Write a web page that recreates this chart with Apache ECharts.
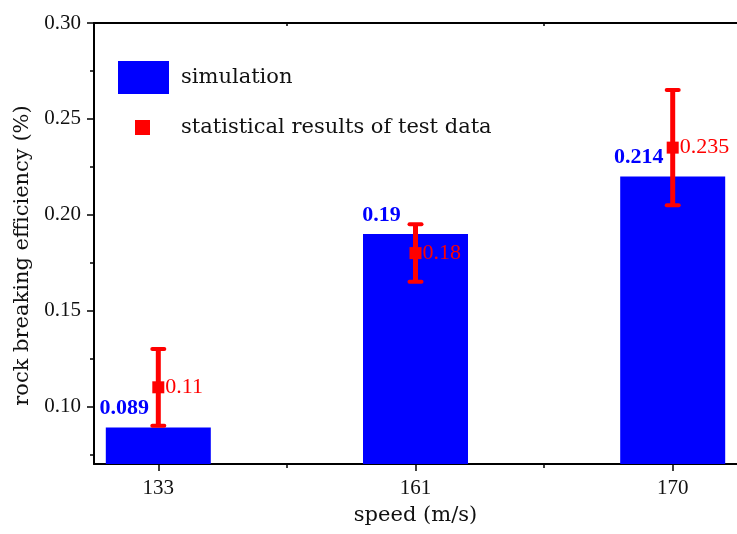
<!DOCTYPE html>
<html>
<head>
<meta charset="utf-8">
<script src="https://cdn.jsdelivr.net/npm/echarts@6/dist/echarts.min.js"></script>
<style>
  html, body { margin: 0; padding: 0; background: #fff; }
  #chart { width: 737px; height: 534px; }
</style>
</head>
<body>
<div id="chart"></div>
<script>
// speeds on the x axis (m/s)
const categories = ['133', '161', '170']
// simulation bars: heights and the printed labels
const barValues = [0.089, 0.19, 0.22]
const barLabels = ['0.089', '0.19', '0.214']
// test data: mean with error range
const testMeans = [0.11, 0.18, 0.235]
const testLow = [0.09, 0.165, 0.205]
const testHigh = [0.13, 0.195, 0.265]
// y tick labels
const yTicks = [0.1, 0.15, 0.2, 0.25, 0.3]
const yMinorTicks = [0.075, 0.125, 0.175, 0.225, 0.275]

const serif = '"DejaVu Serif", serif'
const numFont = '"Liberation Serif", serif'
const xPos = categories.map((c, i) => i + 1)
const xMinor = xPos.slice(1).map(x => x - 0.5)

const chart = echarts.init(document.getElementById('chart'))

chart.setOption({
  animation: false,
  grid: { left: 94, top: 23, right: -6, bottom: 70 },
  legend: [
    {
      data: [{ name: 'simulation', icon: 'rect' }],
      left: 118,
      top: 61,
      itemWidth: 51,
      itemHeight: 33,
      padding: 0,
      textStyle: { fontFamily: serif, fontSize: 21, color: '#111', padding: [0, 0, 0, 7] },
    },
    {
      data: [{ name: 'statistical results of test data', icon: 'rect' }],
      left: 135,
      top: 117,
      itemWidth: 15,
      itemHeight: 15,
      padding: 0,
      textStyle: { fontFamily: serif, fontSize: 21, color: '#111', padding: [0, 0, 0, 26] },
    },
  ],
  xAxis: [
    {
      type: 'value',
      min: 0.75,
      max: 3.25,
      name: 'speed (m/s)',
      nameLocation: 'middle',
      nameGap: 41,
      nameTextStyle: { fontFamily: serif, fontSize: 21, color: '#111' },
      splitLine: { show: false },
      axisLine: { lineStyle: { color: '#000', width: 2 } },
      axisTick: { customValues: xPos, length: 7, lineStyle: { color: '#000', width: 1.5 } },
      axisLabel: {
        customValues: xPos,
        formatter: v => categories[Math.round(v) - 1],
        margin: 14,
        fontFamily: numFont,
        fontSize: 21,
        color: '#111',
      },
    },
    {
      // minor ticks between speeds
      type: 'value',
      min: 0.75,
      max: 3.25,
      position: 'bottom',
      splitLine: { show: false },
      axisLine: { show: false },
      axisLabel: { show: false },
      axisTick: { customValues: xMinor, length: 4, lineStyle: { color: '#000', width: 1.5 } },
    },
    {
      // top frame
      type: 'value',
      min: 0.75,
      max: 3.25,
      position: 'top',
      splitLine: { show: false },
      axisLine: { lineStyle: { color: '#000', width: 2 } },
      axisLabel: { show: false },
      axisTick: { customValues: xMinor, inside: true, length: 3, lineStyle: { color: '#000', width: 1.5 } },
    },
  ],
  yAxis: [
    {
      type: 'value',
      min: 0.07,
      max: 0.3,
      name: 'rock breaking efficiency (%)',
      nameLocation: 'middle',
      nameGap: 52,
      nameTextStyle: { fontFamily: serif, fontSize: 21, color: '#111', padding: [0, 24, 0, 0] },
      splitLine: { show: false },
      axisLine: { lineStyle: { color: '#000', width: 2 } },
      axisTick: { customValues: yTicks, length: 7, lineStyle: { color: '#000', width: 1.5 } },
      axisLabel: {
        customValues: yTicks,
        formatter: v => v.toFixed(2),
        margin: 13,
        fontFamily: numFont,
        fontSize: 21,
        color: '#111',
      },
    },
    {
      type: 'value',
      min: 0.07,
      max: 0.3,
      position: 'left',
      splitLine: { show: false },
      axisLine: { show: false },
      axisLabel: { show: false },
      axisTick: { customValues: yMinorTicks, length: 4, lineStyle: { color: '#000', width: 1.5 } },
    },
  ],
  series: [
    {
      name: 'simulation',
      type: 'bar',
      barWidth: 105,
      itemStyle: { color: '#0000ff' },
      data: barValues.map((v, i) => [xPos[i], v]),
      label: {
        show: true,
        position: 'top',
        distance: 5,
        offset: [-34, -3],
        formatter: p => barLabels[p.dataIndex],
        fontFamily: numFont,
        fontWeight: 'bold',
        fontSize: 22,
        color: '#0000ff',
      },
    },
    {
      name: 'error',
      type: 'custom',
      z: 3,
      data: testMeans.map((v, i) => [xPos[i], testLow[i], testHigh[i]]),
      renderItem: (params, api) => {
        const lo = api.coord([api.value(0), api.value(1)])
        const hi = api.coord([api.value(0), api.value(2)])
        const cap = 6
        const style = { stroke: '#ff0000', lineWidth: 4, lineCap: 'round' }
        return {
          type: 'group',
          children: [
            { type: 'line', shape: { x1: lo[0], y1: lo[1], x2: hi[0], y2: hi[1] }, style: { stroke: '#ff0000', lineWidth: 5 } },
            { type: 'line', shape: { x1: hi[0] - cap, y1: hi[1], x2: hi[0] + cap, y2: hi[1] }, style },
            { type: 'line', shape: { x1: lo[0] - cap, y1: lo[1], x2: lo[0] + cap, y2: lo[1] }, style },
          ],
        }
      },
    },
    {
      name: 'statistical results of test data',
      type: 'scatter',
      z: 4,
      symbol: 'rect',
      symbolSize: 12,
      itemStyle: { color: '#ff0000', opacity: 1 },
      data: testMeans.map((v, i) => [xPos[i], v]),
      label: {
        show: true,
        position: 'right',
        distance: 1,
        formatter: p => String(p.value[1]),
        fontFamily: numFont,
        fontSize: 22,
        color: '#ff0000',
      },
    },
  ],
})
</script>
</body>
</html>
